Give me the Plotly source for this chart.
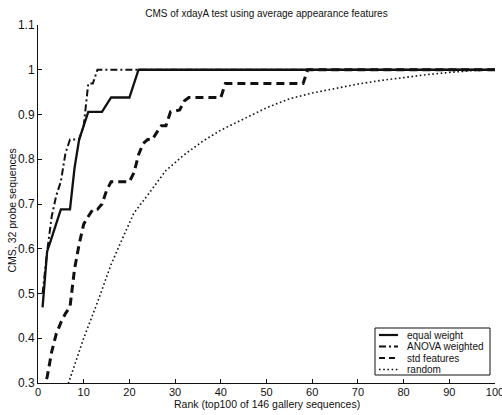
import plotly.graph_objects as go

# ---------------- data ----------------
rank_equal = [1, 2, 3, 4, 5, 7, 8, 9, 10, 11, 14, 15, 16, 20, 21, 22, 100]
cms_equal = [0.469, 0.594, 0.625, 0.656, 0.688, 0.688, 0.781, 0.844, 0.875, 0.906,
             0.906, 0.922, 0.938, 0.938, 0.969, 1.0, 1.0]

rank_anova = [1, 2, 3, 4, 5, 6, 7, 9, 10, 11, 12, 13, 100]
cms_anova = [0.500, 0.594, 0.672, 0.719, 0.750, 0.813, 0.844, 0.844, 0.875, 0.969,
             0.969, 1.0, 1.0]

rank_std = [1, 2, 3, 4, 5, 6, 7, 8, 9, 10, 11, 12, 13, 14, 15, 16, 20, 21, 22, 23,
            24, 25, 26, 27, 28, 29, 31, 32, 33, 40, 41, 58, 59, 100]
cms_std = [0.281, 0.313, 0.370, 0.410, 0.435, 0.455, 0.470, 0.555, 0.610, 0.655,
           0.672, 0.688, 0.688, 0.700, 0.730, 0.750, 0.750, 0.770, 0.810, 0.835,
           0.844, 0.844, 0.860, 0.875, 0.875, 0.906, 0.910, 0.930, 0.938, 0.938,
           0.969, 0.969, 1.0, 1.0]

rank_random = [1, 3, 5, 7, 10, 13, 16, 19, 21, 24, 28, 32, 36, 40, 43, 47, 50, 55,
               60, 65, 70, 75, 80, 85, 90, 95, 100]
cms_random = [0.12, 0.19, 0.25, 0.31, 0.40, 0.48, 0.565, 0.635, 0.68, 0.72, 0.775,
              0.81, 0.84, 0.865, 0.88, 0.90, 0.915, 0.935, 0.948, 0.958, 0.968,
              0.976, 0.983, 0.989, 0.994, 0.998, 1.0]

series_names = ["equal weight", "ANOVA weighted", "std features", "random"]

x_ticks = [0, 10, 20, 30, 40, 50, 60, 70, 80, 90, 100]
y_ticks = [0.3, 0.4, 0.5, 0.6, 0.7, 0.8, 0.9, 1.0, 1.1]
y_tick_labels = ["0.3", "0.4", "0.5", "0.6", "0.7", "0.8", "0.9", "1", "1.1"]

title_text = "CMS of xdayA test using average appearance features"
x_title = "Rank (top100 of 146 gallery sequences)"
y_title = "CMS, 32 probe sequences"

# ---------------- styling ----------------
FONT = "Liberation Sans, Arial, Helvetica, sans-serif"
INK = "#111111"
styles = [
    dict(color=INK, width=2.3, dash="solid"),
    dict(color=INK, width=2.0, dash="7px,3px,2px,3px"),
    dict(color=INK, width=3.0, dash="8px,5px"),
    dict(color=INK, width=1.6, dash="1.6px,2.6px"),
]

W, H = 502, 415
L, R, T, B = 38, 7, 25, 32
PW, PH = W - L - R, H - T - B


def px2x(px):
    return (px - L) / PW


def py2y(py):
    return (H - B - py) / PH


fig = go.Figure()
xs = [rank_equal, rank_anova, rank_std, rank_random]
ys = [cms_equal, cms_anova, cms_std, cms_random]
for name, x, y, st in zip(series_names, xs, ys, styles):
    fig.add_trace(go.Scatter(x=x, y=y, mode="lines", name=name, line=st,
                             showlegend=False, hoverinfo="skip"))

# ---------------- manual legend box (compact, MATLAB-like) ----------------
shapes = [dict(type="rect", xref="paper", yref="paper",
               x0=px2x(375), x1=px2x(490), y0=py2y(375), y1=py2y(328),
               line=dict(color=INK, width=1), fillcolor="white", layer="above")]
annotations = []
entry_y = [335, 346.5, 358, 369.5]
legend_dash = ["solid", "7px,3px,2px,3px", "6px,4px", "1.6px,2.6px"]
for name, st, ey, dsh in zip(series_names, styles, entry_y, legend_dash):
    shapes.append(dict(type="line", xref="paper", yref="paper",
                       x0=px2x(379), x1=px2x(398), y0=py2y(ey), y1=py2y(ey),
                       line=dict(color=INK, width=min(st["width"], 2.2), dash=dsh),
                       layer="above"))
    annotations.append(dict(xref="paper", yref="paper", x=px2x(405), y=py2y(ey),
                            text=name, showarrow=False, xanchor="left",
                            yanchor="middle", font=dict(size=10, color=INK, family=FONT)))

# axis titles as annotations for exact placement
annotations.append(dict(xref="paper", yref="paper", x=px2x(266.5), y=py2y(403.5),
                        text=x_title, showarrow=False, xanchor="center",
                        yanchor="middle", font=dict(size=10.5, color=INK, family=FONT)))
annotations.append(dict(xref="paper", yref="paper", x=px2x(11.5), y=py2y(211),
                        text=y_title, showarrow=False, xanchor="center",
                        yanchor="middle", textangle=-90,
                        font=dict(size=10.5, color=INK, family=FONT)))

fig.update_layout(
    width=W, height=H,
    margin=dict(l=L, r=R, t=T, b=B, autoexpand=False),
    paper_bgcolor="white", plot_bgcolor="white",
    font=dict(family=FONT, color=INK),
    title=dict(text=title_text, x=266.5 / W, xref="container", xanchor="center",
               y=1 - 13 / H, yref="container", yanchor="middle",
               font=dict(size=10, color=INK, family=FONT)),
    shapes=shapes, annotations=annotations,
    xaxis=dict(range=[0, 100], tickvals=x_ticks, ticks="inside", ticklen=4,
               tickwidth=1, tickcolor=INK, showline=True, linecolor=INK, linewidth=1,
               showgrid=False, zeroline=False, automargin=False,
               ticklabeloverflow="allow", ticklabelstandoff=-1,
               tickfont=dict(size=11, color=INK, family=FONT)),
    yaxis=dict(range=[0.3, 1.1], tickvals=y_ticks, ticktext=y_tick_labels,
               ticks="inside", ticklen=4, tickwidth=1, tickcolor=INK,
               showline=True, linecolor=INK, linewidth=1, showgrid=False,
               zeroline=False, automargin=False,
               tickfont=dict(size=12, color=INK, family=FONT)),
)

fig.write_html("out.html",
               config={"displayModeBar": False, "staticPlot": True},
               post_script="document.body.style.margin='0px';"
                           "document.body.style.overflow='hidden';")
